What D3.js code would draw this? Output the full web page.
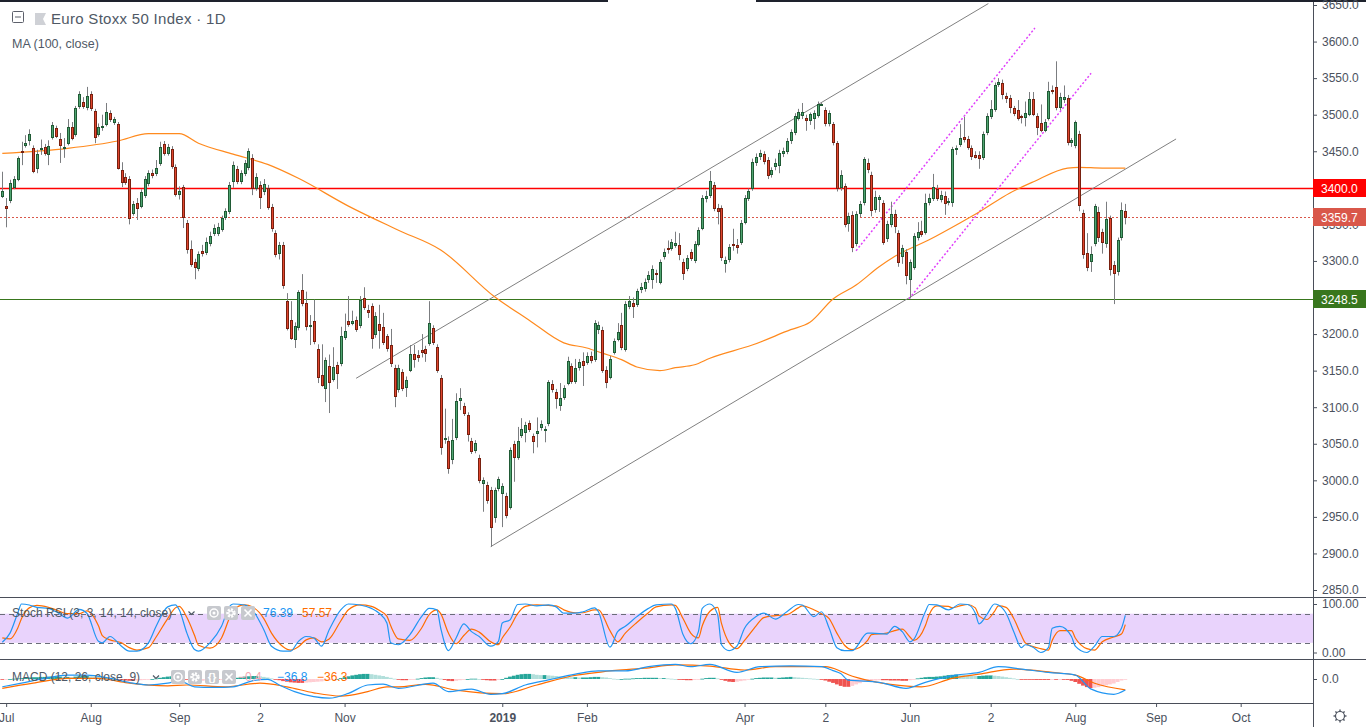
<!DOCTYPE html>
<meta charset="utf-8">
<style>
body { margin: 0; background: #fff; font-family: "Liberation Sans", Arial, sans-serif; }
svg { display: block; }
.axis text { font-size: 12px; fill: #4c525e; font-family: "Liberation Sans", Arial, sans-serif; }
.axis line { stroke: #4c525e; }
.axis path { display: none; }
</style>
<body>
<script src="https://d3js.org/d3.v7.min.js"></script>
<script>

// Euro Stoxx 50, daily bars from end of June 2018 to mid August 2019: [open, high, low, close]
var candles = [
  [3389,3422,3386,3396],[3375,3386,3346,3372],[3383,3411,3379,3407],[3401,3416,3398,3412],[3412,3443,3409,3441],
  [3450,3463,3431,3449],[3458,3472,3455,3461],[3465,3480,3458,3474],[3454,3458,3420,3423],[3427,3452,3420,3446],
  [3454,3466,3445,3455],[3456,3460,3444,3448],[3446,3465,3431,3457],[3470,3490,3466,3486],[3482,3485,3468,3471],
  [3467,3475,3434,3458],[3455,3468,3441,3456],[3461,3494,3458,3483],[3483,3490,3465,3468],[3474,3512,3470,3509],
  [3512,3532,3508,3528],[3517,3524,3508,3512],[3510,3538,3506,3526],[3528,3532,3505,3509],[3505,3508,3461,3470],
  [3474,3488,3470,3483],[3483,3500,3478,3484],[3487,3516,3484,3504],[3502,3506,3490,3494],[3490,3497,3486,3494],
  [3487,3490,3425,3427],[3424,3435,3401,3408],[3415,3420,3404,3408],[3412,3416,3350,3359],[3366,3382,3362,3378],
  [3379,3386,3356,3372],[3375,3398,3372,3394],[3390,3416,3386,3412],[3407,3424,3402,3420],[3420,3425,3413,3418],
  [3420,3438,3416,3427],[3434,3463,3430,3456],[3460,3464,3444,3448],[3448,3460,3444,3456],[3453,3457,3426,3430],
  [3428,3432,3388,3392],[3392,3402,3384,3396],[3401,3404,3345,3360],[3352,3356,3310,3316],[3316,3328,3292,3296],
  [3299,3303,3275,3292],[3290,3313,3286,3310],[3313,3322,3306,3311],[3312,3332,3308,3326],[3325,3340,3320,3334],
  [3338,3350,3334,3345],[3338,3352,3334,3346],[3344,3362,3340,3359],[3360,3372,3356,3368],[3368,3408,3364,3404],
  [3409,3436,3400,3431],[3426,3430,3405,3409],[3409,3424,3405,3420],[3420,3438,3416,3434],[3428,3454,3424,3450],
  [3441,3446,3390,3400],[3400,3420,3396,3415],[3404,3409,3371,3387],[3396,3412,3390,3405],[3400,3404,3370,3374],
  [3374,3378,3340,3345],[3338,3342,3305,3310],[3311,3326,3302,3322],[3322,3326,3262,3267],[3245,3256,3205,3208],
  [3219,3245,3192,3195],[3193,3216,3181,3211],[3210,3260,3205,3257],[3260,3282,3238,3242],[3242,3258,3205,3211],
  [3211,3226,3185,3212],[3218,3247,3186,3190],[3180,3186,3133,3141],[3144,3186,3128,3130],[3126,3168,3107,3165],
  [3156,3172,3092,3134],[3139,3182,3135,3155],[3158,3162,3125,3147],[3160,3210,3156,3197],[3196,3228,3192,3204],
  [3218,3252,3210,3214],[3215,3232,3212,3218],[3219,3224,3203,3207],[3212,3252,3208,3247],[3249,3264,3233,3237],
  [3233,3240,3222,3230],[3238,3242,3180,3195],[3200,3230,3195,3225],[3214,3240,3180,3206],[3210,3229,3185,3189],
  [3197,3200,3176,3181],[3185,3207,3155,3160],[3154,3158,3100,3115],[3125,3158,3120,3154],[3148,3152,3122,3126],
  [3128,3142,3114,3137],[3151,3185,3148,3173],[3173,3185,3154,3166],[3171,3178,3162,3168],[3178,3200,3168,3175],
  [3180,3184,3162,3174],[3188,3245,3184,3215],[3208,3212,3185,3189],[3182,3186,3147,3151],[3140,3144,3035,3046],
  [3058,3098,3050,3058],[3054,3060,3009,3017],[3029,3084,3022,3055],[3059,3119,3055,3108],[3110,3126,3096,3113],
  [3102,3106,3088,3092],[3089,3093,3053,3063],[3054,3058,3036,3040],[3041,3055,3037,3051],[3031,3035,2996,3000],
  [2996,3004,2957,3000],[2994,2998,2968,2973],[2987,2991,2909,2936],[2950,2990,2942,2987],[2990,3005,2985,3002],
  [2983,2996,2936,2992],[2979,2983,2948,2953],[2964,3045,2960,3042],[3050,3054,2998,3032],[3032,3073,3028,3054],
  [3062,3085,3058,3070],[3066,3080,3052,3076],[3078,3082,3066,3070],[3061,3064,3037,3054],[3065,3086,3045,3067],
  [3073,3082,3068,3077],[3069,3074,3052,3070],[3078,3137,3074,3134],[3132,3137,3120,3125],[3121,3125,3098,3113],
  [3103,3133,3095,3113],[3114,3130,3110,3126],[3133,3169,3130,3163],[3156,3160,3132,3136],[3136,3166,3132,3154],
  [3155,3166,3150,3162],[3163,3175,3129,3158],[3162,3175,3158,3170],[3170,3176,3160,3165],[3166,3219,3162,3215],
  [3207,3217,3200,3212],[3206,3210,3147,3151],[3151,3156,3126,3134],[3141,3170,3138,3166],[3176,3194,3172,3190],
  [3193,3215,3190,3203],[3212,3229,3178,3182],[3180,3245,3176,3241],[3238,3252,3234,3245],[3243,3250,3222,3238],
  [3241,3262,3237,3259],[3262,3270,3256,3264],[3263,3276,3258,3271],[3275,3286,3270,3281],[3275,3294,3262,3289],
  [3284,3288,3270,3283],[3271,3302,3268,3299],[3307,3317,3302,3312],[3318,3328,3310,3316],[3318,3330,3314,3326],
  [3322,3340,3318,3325],[3322,3338,3301,3310],[3299,3303,3274,3284],[3290,3308,3286,3304],[3312,3316,3300,3304],
  [3301,3327,3297,3323],[3323,3346,3320,3342],[3345,3390,3342,3386],[3386,3396,3380,3389],[3390,3423,3386,3409],
  [3404,3408,3368,3372],[3372,3378,3350,3368],[3372,3376,3300,3305],[3297,3306,3284,3301],[3303,3323,3298,3319],
  [3323,3344,3314,3322],[3322,3330,3310,3319],[3326,3356,3322,3352],[3353,3390,3350,3386],[3386,3399,3382,3396],
  [3400,3440,3396,3435],[3435,3447,3430,3442],[3443,3452,3438,3448],[3446,3450,3432,3437],[3438,3442,3412,3418],
  [3419,3428,3414,3424],[3430,3440,3424,3434],[3431,3452,3420,3448],[3448,3455,3442,3450],[3450,3468,3446,3464],
  [3465,3480,3460,3476],[3476,3502,3472,3498],[3496,3508,3492,3504],[3500,3516,3494,3504],[3496,3500,3478,3493],
  [3493,3503,3486,3501],[3495,3506,3480,3502],[3500,3518,3496,3515],[3514,3516,3512,3515],[3506,3510,3484,3489],
  [3489,3506,3484,3502],[3487,3490,3458,3463],[3461,3464,3395,3400],[3401,3424,3396,3418],[3402,3406,3346,3350],
  [3352,3366,3340,3362],[3363,3368,3312,3319],[3325,3368,3320,3364],[3366,3382,3360,3378],[3381,3442,3376,3439],
  [3434,3440,3420,3426],[3418,3422,3361,3370],[3371,3396,3366,3387],[3385,3390,3367,3388],[3379,3383,3322,3326],
  [3331,3355,3326,3350],[3350,3381,3346,3364],[3364,3370,3338,3348],[3338,3342,3292,3299],[3307,3322,3296,3318],
  [3312,3316,3268,3281],[3275,3302,3249,3299],[3292,3338,3288,3334],[3333,3353,3328,3340],[3341,3355,3333,3337],
  [3340,3392,3336,3379],[3381,3392,3376,3386],[3386,3419,3382,3401],[3398,3404,3382,3386],[3385,3396,3380,3390],
  [3389,3395,3363,3379],[3381,3386,3376,3382],[3381,3456,3374,3453],[3454,3458,3445,3455],[3460,3487,3456,3468],
  [3470,3497,3462,3467],[3467,3471,3452,3456],[3454,3458,3438,3444],[3445,3450,3440,3442],[3445,3450,3426,3441],
  [3442,3477,3438,3474],[3476,3502,3472,3498],[3498,3520,3494,3508],[3508,3544,3504,3541],[3542,3550,3538,3545],
  [3543,3548,3521,3528],[3526,3530,3516,3523],[3523,3527,3502,3510],[3509,3512,3498,3502],[3506,3520,3492,3496],
  [3498,3500,3488,3497],[3497,3518,3484,3502],[3501,3531,3498,3522],[3522,3531,3498,3501],[3498,3502,3472,3483],
  [3489,3514,3476,3479],[3479,3494,3476,3490],[3496,3545,3492,3532],[3534,3540,3528,3532],[3538,3573,3506,3510],
  [3510,3530,3506,3524],[3522,3540,3516,3524],[3523,3527,3458,3463],[3462,3468,3456,3465],[3458,3492,3454,3490],
  [3474,3478,3368,3376],[3366,3370,3303,3310],[3311,3338,3286,3292],[3300,3320,3285,3310],[3325,3378,3320,3375],
  [3367,3374,3326,3333],[3340,3344,3310,3326],[3325,3381,3318,3357],[3359,3362,3280,3289],[3294,3300,3241,3284],
  [3286,3332,3280,3329],[3333,3380,3328,3370],[3368,3378,3350,3359.7]
];

// MA(100, close) at these bars
var maIdx = [0, 17, 30, 38, 46, 51, 60, 69, 77, 90, 103, 114, 128, 137, 146, 152, 156, 161, 165, 171, 175, 180, 184, 195, 205, 210, 216, 222, 228, 232, 241, 249, 254, 262, 268, 277, 280, 286, 292];
var maVal = [3447, 3454, 3464, 3474, 3474, 3461, 3446, 3432, 3413, 3375, 3342, 3315, 3251, 3219, 3188, 3181, 3174, 3165, 3155, 3150, 3154, 3158, 3167, 3185, 3206, 3216, 3248, 3267, 3292, 3306, 3329, 3352, 3367, 3393, 3408, 3427, 3428, 3427, 3427];

// Stoch RSI (3, 3, 14, 14, close)
var stochIdx = [0,2,4,5,7,9,12,14,17,20,22,25,26,28,31,33,35,38,40,43,45,46,48,50,51,54,57,59,60,63,65,68,70,73,75,77,79,81,83,85,88,90,93,96,98,100,101,103,106,109,111,113,114,116,118,120,122,124,127,129,130,132,134,136,139,142,144,146,149,151,154,155,158,160,162,165,168,170,174,175,177,179,181,182,184,186,187,189,191,193,196,198,201,204,207,208,211,213,215,217,219,221,225,226,230,232,234,236,237,240,241,243,246,247,249,251,253,254,256,258,259,261,263,265,266,268,270,272,273,275,278,279,282,284,286,289,291,292];
var stochK = [21,40,81,100,98,93,91,84,71,89,81,23,20,33,13,3,3,20,54,94,98,88,40,6,3,20,54,94,100,98,88,47,13,3,3,23,33,30,13,47,88,100,98,91,81,61,20,16,37,74,91,88,50,4,30,59,43,33,13,23,61,67,99,100,96,98,94,81,81,84,92,84,11,43,54,74,91,98,100,91,37,18,43,91,100,78,16,4,13,50,74,81,69,84,99,98,74,84,50,10,4,4,40,40,38,54,43,22,27,84,99,98,88,91,100,99,81,59,78,100,98,81,43,10,16,11,0,10,50,54,33,13,0,13,33,33,50,76.39];
var stochD = [30,28,50,70,92,97,93,88,80,80,86,55,35,26,20,10,5,10,32,70,92,95,72,35,15,9,30,70,88,98,94,70,40,12,5,12,26,30,22,28,65,88,98,95,87,75,55,28,25,50,78,88,80,40,18,35,48,42,22,16,30,52,80,95,98,97,96,88,82,82,88,88,45,22,40,62,82,94,98,97,70,40,30,55,85,93,60,20,8,25,55,72,76,78,92,96,88,80,70,40,15,6,25,37,40,45,48,32,25,55,78,96,95,92,96,99,92,75,68,85,96,93,70,35,20,12,8,5,25,45,45,30,8,5,22,32,38,57.57];

// MACD (12, 26, close, 9)
var macdIdx = [0,5,11,17,22,28,34,38,43,46,50,55,60,65,69,72,76,81,85,90,95,99,103,112,116,122,127,130,136,142,149,155,162,168,175,179,184,191,197,205,213,216,218,220,223,228,235,240,248,254,259,265,272,279,283,289,292];
var macdVal = [-26,-14,2,13,13,2,-14,-20,-14,-6,-26,-28,-26,-6,-1,-20,-42,-59,-64,-48,-20,-17,-31,-14,-42,-34,-51,-49,-20,-3,16,27,27,41,49,41,49,22,41,44,41,28,18,-4,-6,-11,-31,-11,13,22,41,33,22,13,-33,-51,-36.8];
var signalIdx = [0,8,17,25,32,43,48,58,67,74,81,88,95,100,103,110,118,130,139,148,156,167,175,184,193,201,214,218,220,223,231,239,247,254,263,273,279,284,292];
var signalVal = [-31,-14,2,2,-12,-23,-20,-26,-14,-26,-46,-57,-42,-26,-26,-18,-37,-49,-20,10,24,36,47,43,30,41,41,26,14,2,-18,-26,2,16,33,22,13,-14,-36.3];
var histVal = [
  -2,-1,0,1,2,3,4,5,6,6, 7,7,8,8,8,8,7,7,6,8, 9,10,10,9,8,7,6,5,3,1,
  -1,-3,-5,-6,-6,-5,-4,-3,-2,0, 2,4,6,8,9,8,6,3,-1,-4, -6,-7,-6,-5,-4,-3,-3,-2,-1,0,
  2,4,6,8,9,10,10,9,7,5, 2,-1,-4,-7,-9,-11,-12,-13,-13,-12, -11,-10,-9,-8,-6,-4,-2,0,3,6,
  9,12,14,16,17,17,16,14,12,10, 7,4,1,-2,-4,-4,-3,-1,1,3, 5,6,6,4,1,-3,-6,-7,-6,-4,
  -2,0,1,1,0,-2,-4,-5,-5,-3, 0,4,8,11,14,16,17,17,16,14, 13,13,12,11,10,9,8,7,6,6,
  5,5,5,6,7,7,6,5,3,1, 0,0,1,1,2,3,3,4,4,4, 4,3,3,2,1,0,-1,-3,-4,-4,
  -3,-1,1,3,4,4,2,-2,-6,-9, -10,-9,-7,-5,-2,1,3,4,5,5, 5,4,4,5,6,7,6,5,4,3,
  2,1,0,-2,-5,-9,-13,-18,-23,-26, -26,-23,-18,-14,-10,-8,-6,-5,-4,-4, -4,-5,-5,-5,-6,-6,-4,-1,2,4,
  6,7,7,8,9,11,13,14,15,14, 13,12,11,10,10,11,12,12,11,10, 8,6,4,2,0,-1,-2,-2,-2,-3,
  -3,-3,-3,-2,-2,-1,-1,-3,-6,-10, -16,-22,-27,-30,-29,-27,-24,-21,-18,-15, -10,-5,-0.4
];

// horizontal levels and drawn trend lines (bar index, price)
var levels = [
  { price: 3400, color: "#ff0000", width: 1.4, dash: null, label: "3400.0" },
  { price: 3359.7, color: "#d9574a", width: 1, dash: "2,2", label: "3359.7" },
  { price: 3248.5, color: "#38761d", width: 1, dash: null, label: "3248.5" }
];
var channelLines = [
  { from: [92.0, 3139.5], to: [256.4, 3652], color: "#808080", dash: null },
  { from: [127.0, 2909.3], to: [305.2, 3466.8], color: "#808080", dash: null },
  { from: [222.0, 3314], to: [268.5, 3618.5], color: "#e040fb", dash: "2,2" },
  { from: [235.8, 3248.4], to: [283.1, 3556.6], color: "#e040fb", dash: "2,2" }
];

var priceTicks = [2850, 2900, 2950, 3000, 3050, 3100, 3150, 3200, 3250, 3300, 3350, 3400, 3450, 3500, 3550, 3600, 3650];
var timeIdx = [1, 23, 46, 67, 89, 130, 152, 193, 214, 236, 257, 279, 300, 322];
var timeLabels = ["Jul", "Aug", "Sep", "2", "Nov", "2019", "Feb", "Apr", "2", "Jun", "2", "Aug", "Sep", "Oct"];

var width = 1366, height = 727, plotRight = 1313;

var x = d3.scaleLinear().domain([0, 292]).range([2.3, 1125.3]);
var y = d3.scaleLinear().domain([2850, 3650]).range([590, 5]);
var ys = d3.scaleLinear().domain([0, 100]).range([652.5, 604]);
var ym = d3.scaleLinear().domain([-80, 66.7]).range([703, 659]);

var svg = d3.select("body").append("svg")
    .attr("width", width)
    .attr("height", height);

svg.append("rect").attr("width", width).attr("height", height).attr("fill", "#fff");

var defs = svg.append("defs");
defs.append("clipPath").attr("id", "clipMain").append("rect").attr("x", 0).attr("y", 1).attr("width", plotRight).attr("height", 596);
defs.append("clipPath").attr("id", "clipStoch").append("rect").attr("x", 0).attr("y", 598).attr("width", plotRight).attr("height", 61);
defs.append("clipPath").attr("id", "clipMacd").append("rect").attr("x", 0).attr("y", 660).attr("width", plotRight).attr("height", 43);

// ---------- main pane ----------
var main = svg.append("g").attr("clip-path", "url(#clipMain)");

main.selectAll(".level")
    .data(levels)
  .enter().append("line")
    .attr("x1", 0).attr("x2", plotRight)
    .attr("y1", function(d) { return Math.round(y(d.price)) + 0.5; })
    .attr("y2", function(d) { return Math.round(y(d.price)) + 0.5; })
    .attr("stroke", function(d) { return d.color; })
    .attr("stroke-width", function(d) { return d.width; })
    .attr("stroke-dasharray", function(d) { return d.dash; });

main.selectAll(".channel")
    .data(channelLines)
  .enter().append("line")
    .attr("x1", function(d) { return x(d.from[0]); })
    .attr("y1", function(d) { return y(d.from[1]); })
    .attr("x2", function(d) { return x(d.to[0]); })
    .attr("y2", function(d) { return y(d.to[1]); })
    .attr("stroke", function(d) { return d.color; })
    .attr("stroke-width", function(d) { return d.dash ? 1.5 : 1; })
    .attr("stroke-dasharray", function(d) { return d.dash; });

var maLine = d3.line()
    .x(function(d) { return x(d[0]); })
    .y(function(d) { return y(d[1]); })
    .curve(d3.curveMonotoneX);

main.append("path")
    .datum(maIdx.map(function(d, i) { return [d, maVal[i]]; }))
    .attr("d", maLine)
    .attr("fill", "none")
    .attr("stroke", "#ff8a1e")
    .attr("stroke-width", 1.2);

var bars = main.selectAll(".bar")
    .data(candles)
  .enter().append("g")
    .attr("class", "bar");

bars.append("line")
    .attr("x1", function(d, i) { return Math.round(x(i)) + 0.5; })
    .attr("x2", function(d, i) { return Math.round(x(i)) + 0.5; })
    .attr("y1", function(d) { return y(d[1]); })
    .attr("y2", function(d) { return y(d[2]); })
    .attr("stroke", "#7b7d80");

function bodyTop(d) { return Math.round(y(Math.max(d[0], d[3]))); }
function bodyH(d) { return Math.max(Math.round(y(Math.min(d[0], d[3]))) - bodyTop(d) + 1, 2); }

bars.append("rect")
    .attr("x", function(d, i) { return Math.round(x(i)) - 1; })
    .attr("width", 3)
    .attr("y", bodyTop)
    .attr("height", bodyH)
    .attr("fill", function(d) { return d[3] >= d[0] ? "#205a35" : "#78200f"; });

bars.filter(function(d) { return bodyH(d) > 2; }).append("rect")
    .attr("x", function(d) { return Math.round(x(candles.indexOf(d))); })
    .attr("width", 1)
    .attr("y", function(d) { return bodyTop(d) + 1; })
    .attr("height", function(d) { return bodyH(d) - 2; })
    .attr("fill", function(d) { return d[3] >= d[0] ? "#4fa571" : "#e0452e"; });

// ---------- Stoch RSI pane ----------
var stoch = svg.append("g").attr("clip-path", "url(#clipStoch)");

stoch.append("rect")
    .attr("x", 0).attr("width", plotRight)
    .attr("y", ys(80)).attr("height", ys(20) - ys(80))
    .attr("fill", "#e9d3fc");

stoch.selectAll(".band")
    .data([80, 20])
  .enter().append("line")
    .attr("x1", 0).attr("x2", plotRight)
    .attr("y1", function(d) { return Math.round(ys(d)) + 0.5; })
    .attr("y2", function(d) { return Math.round(ys(d)) + 0.5; })
    .attr("stroke", "#6a6d78")
    .attr("stroke-dasharray", "5,4");

var stochLine = d3.line()
    .x(function(d) { return x(d[0]); })
    .y(function(d) { return ys(d[1]); })
    .curve(d3.curveMonotoneX);

stoch.append("path")
    .datum(stochIdx.map(function(d, i) { return [d, stochD[i]]; }))
    .attr("d", stochLine)
    .attr("fill", "none").attr("stroke", "#ff6d00").attr("stroke-width", 1.2);

stoch.append("path")
    .datum(stochIdx.map(function(d, i) { return [d, stochK[i]]; }))
    .attr("d", stochLine)
    .attr("fill", "none").attr("stroke", "#2196f3").attr("stroke-width", 1.2);

// ---------- MACD pane ----------
var macd = svg.append("g").attr("clip-path", "url(#clipMacd)");

macd.selectAll(".hist")
    .data(histVal)
  .enter().append("rect")
    .attr("x", function(d, i) { return x(i) - 1.92; })
    .attr("width", 3.85)
    .attr("y", function(d) { return Math.min(ym(d), ym(0)); })
    .attr("height", function(d) { return Math.max(Math.abs(ym(d) - ym(0)), 0.8); })
    .attr("fill", function(d, i) {
      var prev = i > 0 ? histVal[i - 1] : d;
      if (d >= 0) return d >= prev ? "#26a69a" : "#b2dfdb";
      return d <= prev ? "#ef5350" : "#ffcdd2";
    });

var macdLine = d3.line()
    .x(function(d) { return x(d[0]); })
    .y(function(d) { return ym(d[1]); })
    .curve(d3.curveMonotoneX);

macd.append("path")
    .datum(signalIdx.map(function(d, i) { return [d, signalVal[i]]; }))
    .attr("d", macdLine)
    .attr("fill", "none").attr("stroke", "#ff6d00").attr("stroke-width", 1.2);

macd.append("path")
    .datum(macdIdx.map(function(d, i) { return [d, macdVal[i]]; }))
    .attr("d", macdLine)
    .attr("fill", "none").attr("stroke", "#2196f3").attr("stroke-width", 1.2);

// ---------- frame ----------
var frame = svg.append("g").attr("stroke", "#4a4e59").attr("shape-rendering", "crispEdges");
frame.append("line").attr("x1", 0).attr("x2", width).attr("y1", 597.5).attr("y2", 597.5);
frame.append("line").attr("x1", 0).attr("x2", width).attr("y1", 659.5).attr("y2", 659.5);
frame.append("line").attr("x1", 0).attr("x2", plotRight).attr("y1", 703.5).attr("y2", 703.5);
frame.append("line").attr("x1", plotRight + 0.5).attr("x2", plotRight + 0.5).attr("y1", 0).attr("y2", height);

svg.append("rect").attr("x", 0).attr("y", 0).attr("width", 608).attr("height", 2).attr("fill", "#1e222d");
svg.append("rect").attr("x", 756).attr("y", 0).attr("width", width - 756).attr("height", 2).attr("fill", "#1e222d");

// ---------- axes ----------
svg.append("g")
    .attr("class", "axis")
    .attr("transform", "translate(" + plotRight + ",0)")
    .call(d3.axisRight(y).tickValues(priceTicks).tickSize(4).tickPadding(5).tickFormat(d3.format(".1f")));

svg.append("g")
    .attr("class", "axis")
    .attr("transform", "translate(" + plotRight + ",0)")
    .call(d3.axisRight(ys).tickValues([100, 0]).tickSize(4).tickPadding(5).tickFormat(d3.format(".2f")));

svg.append("g")
    .attr("class", "axis")
    .attr("transform", "translate(" + plotRight + ",0)")
    .call(d3.axisRight(ym).tickValues([0]).tickSize(4).tickPadding(5).tickFormat(d3.format(".1f")));

var timeAxis = svg.append("g")
    .attr("class", "axis")
    .attr("transform", "translate(0,703)")
    .call(d3.axisBottom(x).tickValues(timeIdx).tickSize(4).tickPadding(6)
      .tickFormat(function(d, i) { return timeLabels[i]; }));
timeAxis.selectAll("text")
    .style("font-weight", function(d, i) { return timeLabels[i] === "2019" ? "bold" : null; });

// price label boxes on the scale
var tags = svg.selectAll(".tag")
    .data(levels)
  .enter().append("g")
    .attr("transform", function(d) { return "translate(" + plotRight + "," + Math.round(y(d.price)) + ")"; });
tags.append("rect")
    .attr("x", 0).attr("y", -9).attr("width", width - plotRight).attr("height", 18)
    .attr("fill", function(d) { return d.color; });
tags.append("text")
    .attr("x", 8).attr("y", 4.5)
    .attr("fill", "#fff")
    .style("font-size", "12px")
    .text(function(d) { return d.label; });

// ---------- legends ----------
var legend = svg.append("g").style("font-family", "'Liberation Sans', Arial, sans-serif");

legend.append("rect").attr("x", 12.5).attr("y", 11.5).attr("width", 11).attr("height", 11)
    .attr("fill", "none").attr("stroke", "#5d606b").attr("rx", 1);
legend.append("line").attr("x1", 15).attr("x2", 21).attr("y1", 17).attr("y2", 17).attr("stroke", "#5d606b");
legend.append("path").attr("d", "M35,13 H46 L43,19 L46,25 H35 Z").attr("fill", "#cfd1d6");
legend.append("text").attr("x", 51).attr("y", 24).attr("fill", "#4f5966").style("font-size", "15px")
    .style("letter-spacing", "0.3px")
    .text("Euro Stoxx 50 Index · 1D");
legend.append("text").attr("x", 12).attr("y", 48).attr("fill", "#4f5966").style("font-size", "12.5px")
    .text("MA (100, close)");

function chevron(cx, cy) {
  legend.append("path").attr("d", "M" + (cx - 3) + "," + (cy - 1.5) + " L" + cx + "," + (cy + 1.5) + " L" + (cx + 3) + "," + (cy - 1.5))
      .attr("fill", "none").attr("stroke", "#4f5966").attr("stroke-width", 1.2);
}
function icon(ix, iy, kind) {
  legend.append("rect").attr("x", ix).attr("y", iy).attr("width", 14).attr("height", 14).attr("rx", 2).attr("fill", "#c7c9ce");
  var cx = ix + 7, cy = iy + 7;
  if (kind === "eye") {
    legend.append("circle").attr("cx", cx).attr("cy", cy).attr("r", 4).attr("fill", "none").attr("stroke", "#fff").attr("stroke-width", 1.5);
    legend.append("circle").attr("cx", cx).attr("cy", cy).attr("r", 1.5).attr("fill", "#fff");
  } else if (kind === "gear") {
    legend.append("circle").attr("cx", cx).attr("cy", cy).attr("r", 3.5).attr("fill", "none").attr("stroke", "#fff").attr("stroke-width", 2.5)
        .attr("stroke-dasharray", "2,1.2");
    legend.append("circle").attr("cx", cx).attr("cy", cy).attr("r", 2.2).attr("fill", "none").attr("stroke", "#fff").attr("stroke-width", 1.2);
  } else if (kind === "code") {
    legend.append("text").attr("x", cx).attr("y", cy + 4).attr("text-anchor", "middle").attr("fill", "#fff")
        .style("font-size", "11px").style("font-weight", "bold").text("{}");
  } else {
    legend.append("path").attr("d", "M" + (cx - 3.5) + "," + (cy - 3.5) + " L" + (cx + 3.5) + "," + (cy + 3.5) + " M" + (cx + 3.5) + "," + (cy - 3.5) + " L" + (cx - 3.5) + "," + (cy + 3.5))
        .attr("stroke", "#fff").attr("stroke-width", 1.6);
  }
}

legend.append("text").attr("x", 12).attr("y", 617).attr("fill", "#4f5966").style("font-size", "12px")
    .text("Stoch RSI (3, 3, 14, 14, close)");
chevron(191.5, 613);
icon(207, 606, "eye"); icon(224, 606, "gear"); icon(241, 606, "x");
legend.append("text").attr("x", 263).attr("y", 617).attr("fill", "#2196f3").style("font-size", "12px").text("76.39");
legend.append("text").attr("x", 302).attr("y", 617).attr("fill", "#ff6d00").style("font-size", "12px").text("57.57");

legend.append("text").attr("x", 12).attr("y", 681).attr("fill", "#4f5966").style("font-size", "12px")
    .text("MACD (12, 26, close, 9)");
chevron(156, 677);
icon(171, 670, "eye"); icon(188, 670, "gear"); icon(205, 670, "code"); icon(222, 670, "x");
legend.append("text").attr("x", 238).attr("y", 681).attr("fill", "#f6a6b2").style("font-size", "12px").text("\u22120.4");
legend.append("text").attr("x", 277).attr("y", 681).attr("fill", "#2196f3").style("font-size", "12px").text("\u221236.8");
legend.append("text").attr("x", 317).attr("y", 681).attr("fill", "#ff6d00").style("font-size", "12px").text("\u221236.3");

// settings gear under the price scale
var gear = svg.append("g").attr("transform", "translate(1340,716)").attr("stroke", "#4c525e").attr("fill", "none");
gear.append("circle").attr("r", 4.5).attr("stroke-width", 1.2);
d3.range(8).forEach(function(k) {
  var a = k * Math.PI / 4;
  gear.append("line").attr("x1", Math.cos(a) * 4.5).attr("y1", Math.sin(a) * 4.5)
      .attr("x2", Math.cos(a) * 6.5).attr("y2", Math.sin(a) * 6.5).attr("stroke-width", 1.4);
});

</script>
